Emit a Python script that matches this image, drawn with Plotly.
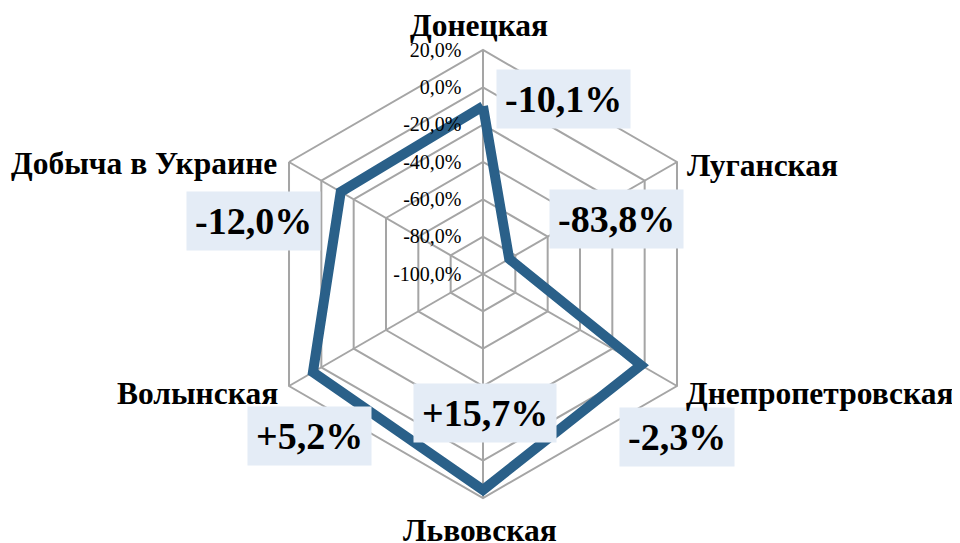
import plotly.graph_objects as go

categories = ["Донецкая", "Луганская", "Днепропетровская", "Львовская", "Волынская", "Добыча в Украине"]
values = [-10.1, -83.8, -2.3, 15.7, 5.2, -12.0]
radial_ticks = [-100, -80, -60, -40, -20, 0, 20]

# layout positions (screen pixels): value-label box centres and category-label anchors
label_px = [(563, 99), (616, 219), (677, 437), (485, 413), (309, 436), (254, 221)]
cat_px = [(479, 25, "center"), (686, 165, "left"), (685, 393, "left"),
          (480, 530, "center"), (279, 393, "right"), (278, 163, "right")]

W, H = 960, 543
OFF = 8  # page body margin in the browser
cx, cy, R = 483, 274, 224  # screen-pixel centre and radius of the radar

LINE = "#2a6089"
GRID = "#a5a5a5"
BOX = "#e4ecf6"
SERIF = "Liberation Serif, Times New Roman, serif"


def px_to_paper(px, py):
    return (px - OFF) / W, 1 - (py - OFF) / H


def fmt_val(v):
    return f"{v:+.1f}%".replace(".", ",")


def fmt_tick(v):
    return f"{v:.1f}%".replace(".", ",")


fig = go.Figure()
fig.add_trace(go.Scatterpolar(
    r=values + values[:1],
    theta=categories + categories[:1],
    mode="lines",
    line=dict(color=LINE, width=10),
    hoverinfo="skip",
    showlegend=False,
))

annotations = []
for v, (px, py) in zip(values, label_px):
    x, y = px_to_paper(px, py)
    annotations.append(dict(
        x=x, y=y, xref="paper", yref="paper",
        text=fmt_val(v), showarrow=False,
        font=dict(family=SERIF, size=38, color="black", weight="bold"),
        bgcolor=BOX, borderpad=8,
        xanchor="center", yanchor="middle",
    ))
for name, (px, py, anchor) in zip(categories, cat_px):
    x, y = px_to_paper(px, py)
    annotations.append(dict(
        x=x, y=y, xref="paper", yref="paper",
        text=name, showarrow=False,
        font=dict(family=SERIF, size=31.5, color="black", weight="bold"),
        xanchor=anchor, yanchor="middle", borderpad=0,
    ))

x0, y1 = px_to_paper(cx - R, cy - R)
x1, y0 = px_to_paper(cx + R, cy + R)

fig.update_layout(
    width=W, height=H,
    margin=dict(l=0, r=0, t=0, b=0),
    paper_bgcolor="white",
    showlegend=False,
    annotations=annotations,
    polar=dict(
        domain=dict(x=[x0, x1], y=[y0, y1]),
        bgcolor="white",
        gridshape="linear",
        angularaxis=dict(
            direction="clockwise", rotation=90,
            categoryorder="array", categoryarray=categories,
            showline=True, linecolor=GRID, linewidth=2,
            gridcolor=GRID, gridwidth=2,
            ticks="", showticklabels=False,
        ),
        radialaxis=dict(
            range=[-100, 20], tickmode="array", tickvals=radial_ticks,
            ticktext=[fmt_tick(t) for t in radial_ticks],
            angle=90, tickangle=90, side="counterclockwise",
            showline=False, ticks="outside", ticklen=14,
            tickcolor="rgba(0,0,0,0)",
            gridcolor=GRID, gridwidth=2,
            tickfont=dict(family=SERIF, size=20, color="black"),
        ),
    ),
)

fig.write_html("out.html")
